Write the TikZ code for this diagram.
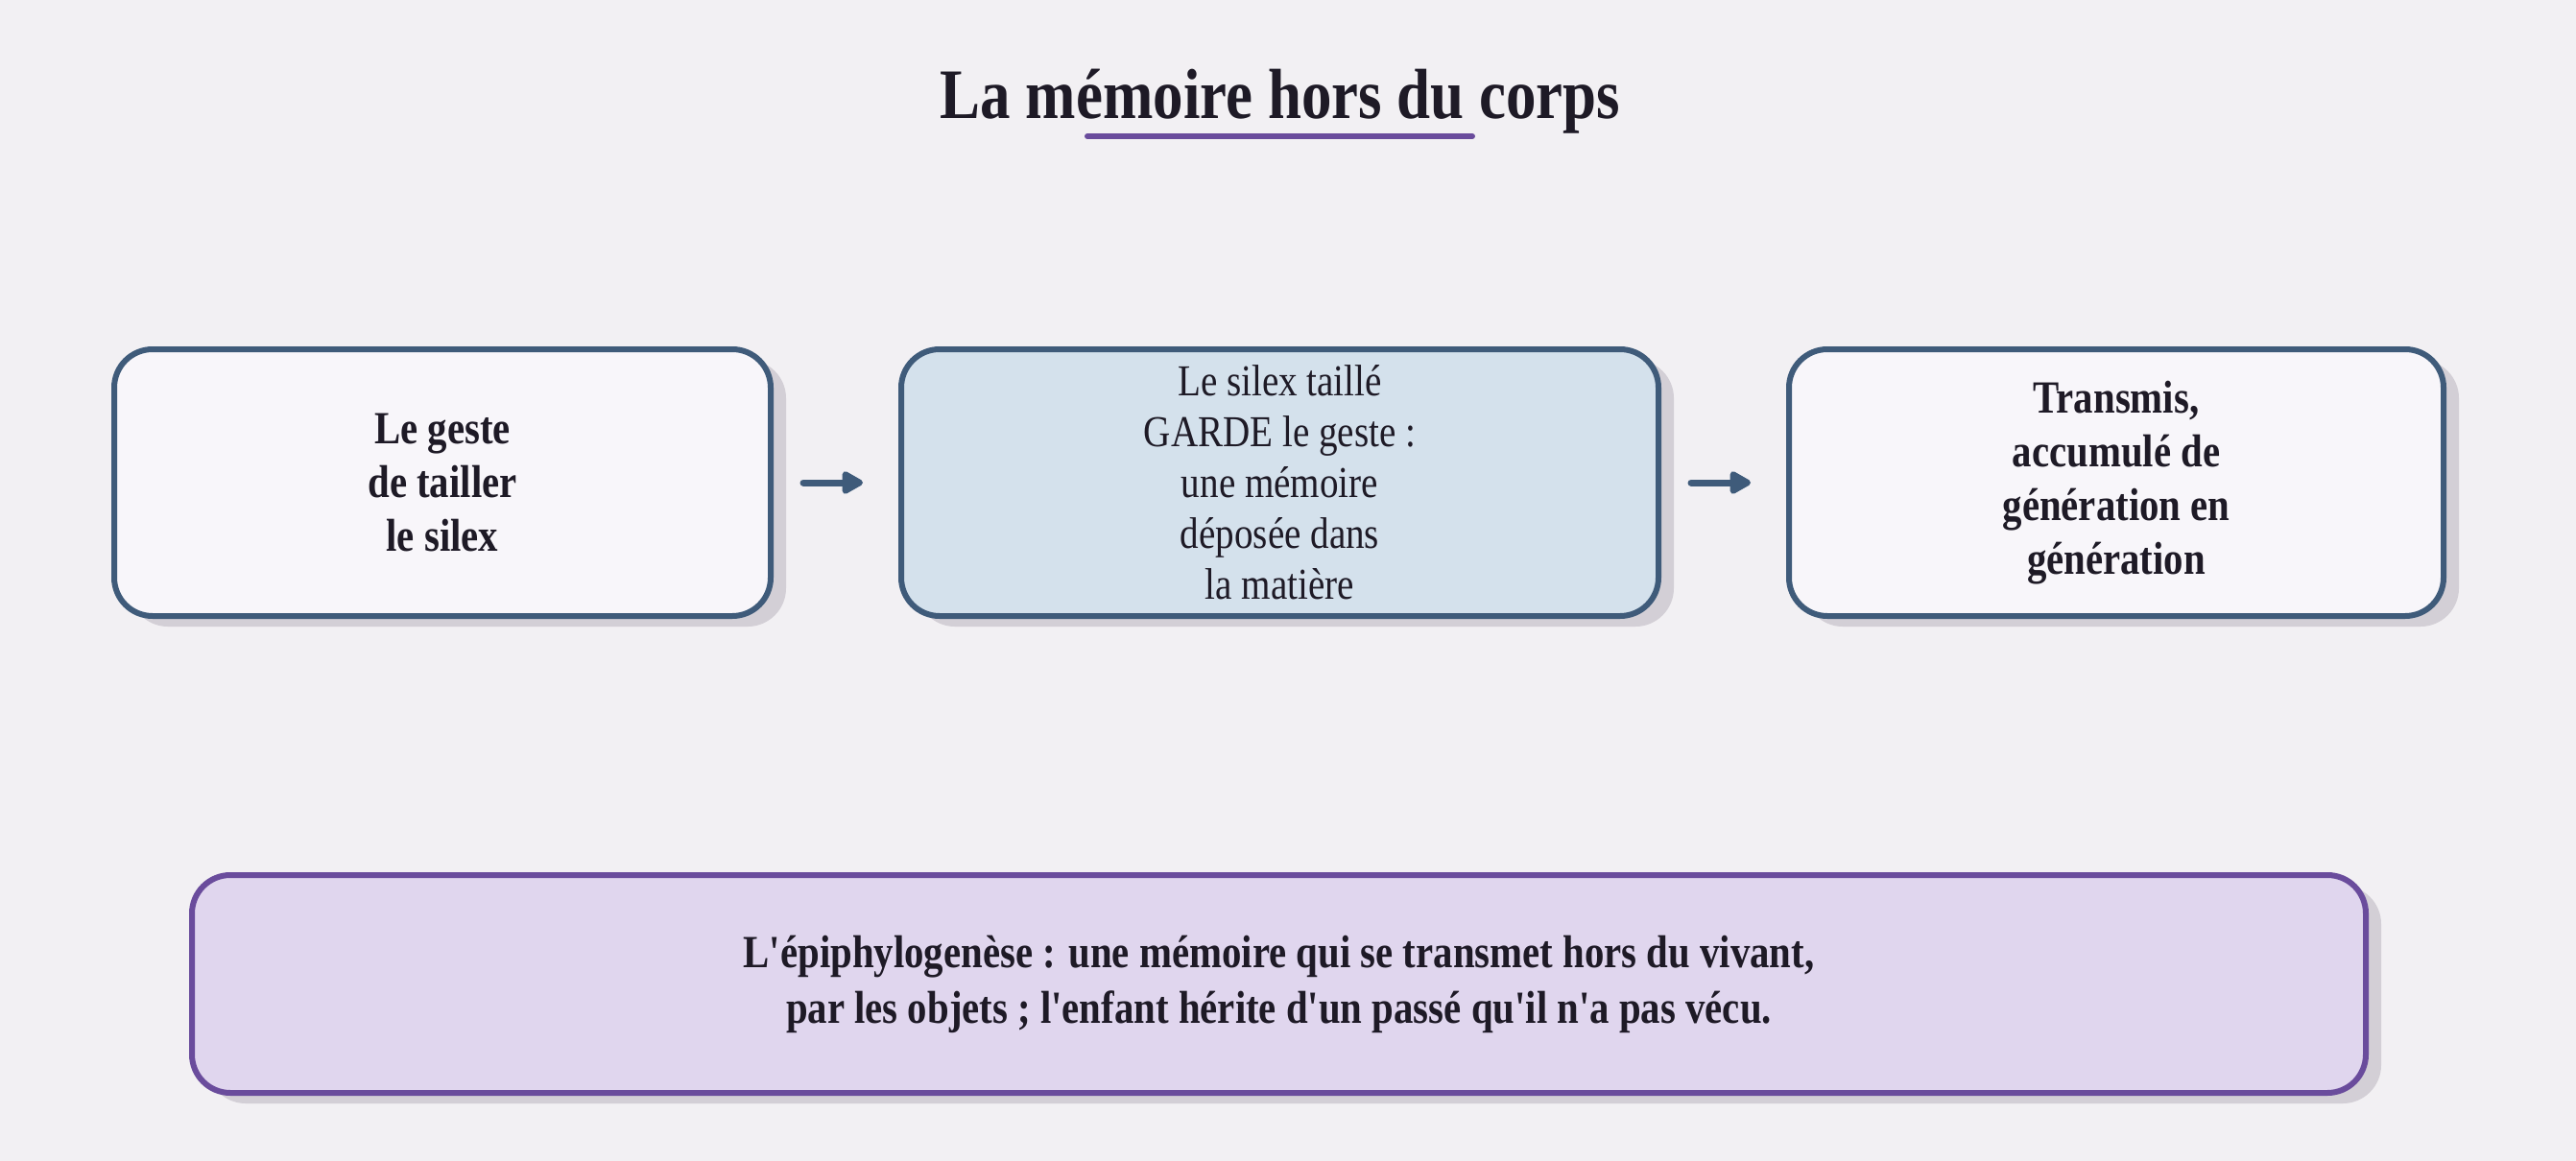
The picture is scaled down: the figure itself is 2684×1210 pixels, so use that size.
\documentclass[tikz,border=0pt]{standalone}
\usepackage{fontspec}
\setmainfont{Liberation Serif}[FakeStretch=0.85,Ligatures=TeXOff]
\usetikzlibrary{arrows.meta,positioning,shadows}
\definecolor{bgpage}{HTML}{F2F0F3}
\definecolor{slate}{HTML}{3F5B7A}
\definecolor{plum}{HTML}{6A4C9C}
\definecolor{inkdark}{HTML}{1E1A26}
\definecolor{boxpale}{HTML}{F8F6FA}
\definecolor{boxblue}{HTML}{D4E1EC}
\definecolor{boxlilac}{HTML}{E0D6EE}
\definecolor{shadowgray}{HTML}{D3CFD6}

\begin{document}
\begin{tikzpicture}[x=0.5pt,y=-0.5pt,line cap=round,line join=round,
  card/.style={draw=slate,fill=boxpale,line width=3pt,rounded corners=20pt,
    align=center,text=inkdark,minimum height=139pt,node distance=65pt,
    drop shadow={shadow xshift=8pt,shadow yshift=-5.5pt,fill=shadowgray,opacity=1}},
  flow/.style={draw=slate,line width=3.5pt,shorten <=15.5pt,shorten >=18.5pt,
    -{Triangle[length=12.5pt,width=13pt,round]}}]
% page
\useasboundingbox[fill=bgpage] (0,0) rectangle (2684,1210);
% title
\node[anchor=base,text=inkdark,font=\bfseries\fontsize{37}{44}\selectfont] (title) at (1334,123) {La mémoire hors du corps};
\draw[plum,line width=3pt] (1133,142) -- (1534,142);
% three steps
\node[card,minimum width=342pt,font=\bfseries\fontsize{24}{27.8}\selectfont] (geste) at (461,503)
  {Le geste\\de tailler\\le silex};
\node[card,fill=boxblue,minimum width=394.5pt,font=\fontsize{23}{26.5}\selectfont,right=of geste] (silex)
  {Le silex taillé\\GARDE le geste :\\une mémoire\\déposée dans\\la matière};
\node[card,minimum width=341pt,font=\bfseries\fontsize{24}{28}\selectfont,right=of silex] (transmis)
  {Transmis,\\accumulé de\\génération en\\génération};
\draw[flow] (geste) -- (silex);
\draw[flow] (silex) -- (transmis);
% summary
\node[card,draw=plum,fill=boxlilac,minimum width=1132.5pt,minimum height=113.5pt,
  font=\bfseries\fontsize{24}{29}\selectfont] (epiphylo) at (1332.5,1025.5)
  {L'épiphylogenèse : une mémoire qui se transmet hors du vivant,\\par les objets ; l'enfant hérite d'un passé qu'il n'a pas vécu.};
\end{tikzpicture}
\end{document}
